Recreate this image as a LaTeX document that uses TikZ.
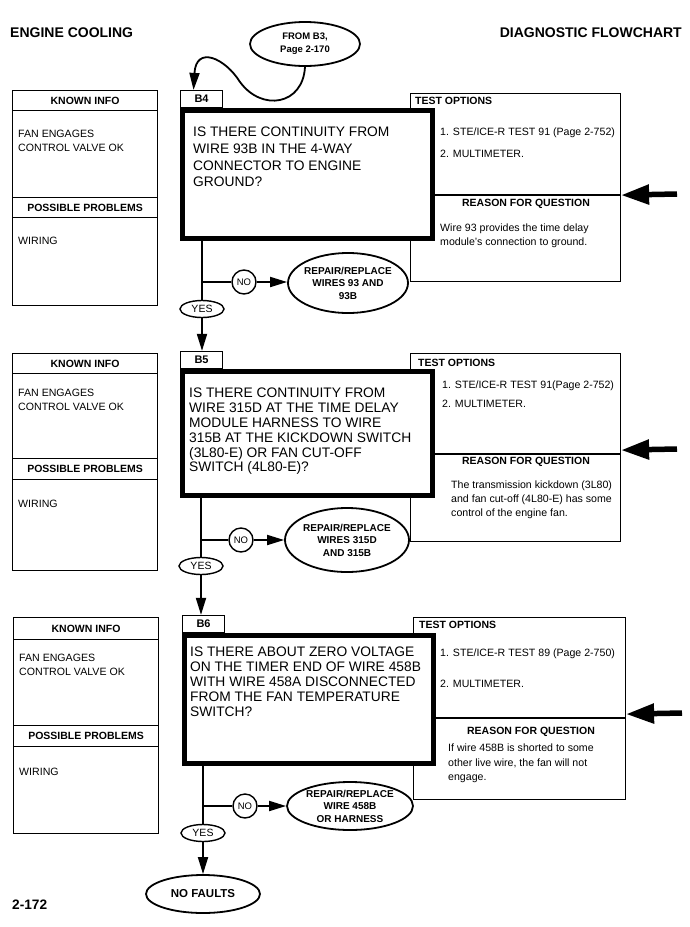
\documentclass[tikz,border=0pt]{standalone}
\usepackage{fontspec}
\setmainfont{Liberation Sans}
\usetikzlibrary{shapes.geometric,arrows.meta,positioning}

\begin{document}
\begin{tikzpicture}[
    x=1pt, y=-1pt,
    box/.style={draw, line width=1.1pt, anchor=north west, inner sep=0pt},
    hdr/.style={inner sep=0pt, font=\fontsize{10.5}{12}\selectfont\bfseries},
    txt/.style={anchor=north west, inner sep=0pt, align=left, font=\fontsize{10.6}{14}\selectfont},
    qbox/.style={draw, line width=5pt, fill=white, anchor=north west},
    qtext/.style={anchor=north west, inner sep=0pt, align=left, font=\fontsize{13.8}{14.8}\selectfont},
    tag/.style={draw, line width=1.1pt, anchor=south west, minimum width=42pt, minimum height=17pt, inner sep=0pt, font=\fontsize{11}{12}\selectfont\bfseries},
    oval/.style={draw, ellipse, line width=1.8pt, fill=white, inner xsep=-8pt, inner ysep=-5pt, align=center, font=\fontsize{10}{12.5}\selectfont\bfseries},
    yesbub/.style={draw, ellipse, line width=1.4pt, fill=white, inner sep=0pt, minimum width=44pt, minimum height=17pt, font=\fontsize{10.5}{12}\selectfont},
    nobub/.style={draw, circle, line width=1.4pt, inner sep=0pt, minimum size=24pt, font=\fontsize{9.5}{11}\selectfont},
    flow/.style={line width=1.8pt},
    arr/.style={line width=1.8pt, -{Triangle[length=17pt,width=10pt]}},
    bigarr/.style={line width=5.5pt, -{Triangle[length=28pt,width=19pt]}},
]
\useasboundingbox (0,0) rectangle (690,927);

% page heading
\node[anchor=west, inner sep=0pt, font=\fontsize{14}{16}\selectfont\bfseries] (title) at (10,33) {ENGINE COOLING};
\node[anchor=east, inner sep=0pt, font=\fontsize{14}{16}\selectfont\bfseries] (kind) at (682,33) {DIAGNOSTIC FLOWCHART};
\node[oval, minimum width=110pt, minimum height=44pt, font=\fontsize{9.5}{13}\selectfont\bfseries] (from) at (305,44) {FROM B3,\\Page 2-170};

% ---- B4 ----
\node[box, minimum width=145pt, minimum height=215pt] (kn1) at (12,90) {};
\node[box, hdr, minimum width=145pt, minimum height=20pt] (kn1h) at (12,90) {KNOWN INFO};
\node[box, hdr, minimum width=145pt, minimum height=20pt] (pp1h) at (12,197) {POSSIBLE PROBLEMS};
\node[txt] (kn1t) at (18,130) {FAN ENGAGES\\CONTROL VALVE OK};
\node[txt] (pp1t) at (18,237) {WIRING};

\node[box, minimum width=210pt, minimum height=101pt] (to1) at (410,93) {};
\node[box, minimum width=210pt, minimum height=86pt, below=0pt of to1] (rq1) {};
\node[hdr, anchor=west] (to1h) at (415,101) {TEST OPTIONS};
\node[txt] (to1t) at (440,128) {1. STE/ICE-R TEST 91 (Page 2-752)\\[8pt]2. MULTIMETER.};
\node[hdr] (rq1h) at (526,204) {REASON FOR QUESTION};
\node[txt] (rq1t) at (440,224) {Wire 93 provides the time delay\\module's connection to ground.};

\node[qbox, minimum width=250pt, minimum height=128pt] (q1box) at (180,108) {};
\node[tag] (b4) at (q1box.north west) {B4};
\node[qtext, font=\fontsize{13.8}{16.7}\selectfont] (q1) at (193,127) {IS THERE CONTINUITY FROM\\WIRE 93B IN THE 4-WAY\\CONNECTOR TO ENGINE\\GROUND?};

\node[nobub] (no1) at (244,282) {NO};
\node[oval, minimum width=120pt, minimum height=60pt] (fix1) at (348,283) {REPAIR/REPLACE\\WIRES 93 AND\\93B};
\node[yesbub] (yes1) at (202,309) {YES};
\coordinate (in1) at (677,194);

% ---- B5 ----
\node[box, minimum width=145pt, minimum height=217pt] (kn2) at (12,353) {};
\node[box, hdr, minimum width=145pt, minimum height=20pt] (kn2h) at (12,353) {KNOWN INFO};
\node[box, hdr, minimum width=145pt, minimum height=21pt] (pp2h) at (12,458) {POSSIBLE PROBLEMS};
\node[txt] (kn2t) at (18,389) {FAN ENGAGES\\CONTROL VALVE OK};
\node[txt] (pp2t) at (18,500) {WIRING};

\node[box, minimum width=210pt, minimum height=100pt] (to2) at (410,353) {};
\node[box, minimum width=210pt, minimum height=87pt, below=0pt of to2] (rq2) {};
\node[hdr, anchor=west] (to2h) at (418,363) {TEST OPTIONS};
\node[txt] (to2t) at (442,381) {1. STE/ICE-R TEST 91(Page 2-752)\\[4.4pt]2. MULTIMETER.};
\node[hdr] (rq2h) at (526,462) {REASON FOR QUESTION};
\node[txt, font=\fontsize{10.6}{13.6}\selectfont] (rq2t) at (451,481) {The transmission kickdown (3L80)\\and fan cut-off (4L80-E) has some\\control of the engine fan.};

\node[qbox, minimum width=250pt, minimum height=124pt] (q2box) at (180,369) {};
\node[tag] (b5) at (q2box.north west) {B5};
\node[qtext] (q2) at (189,388) {IS THERE CONTINUITY FROM\\WIRE 315D AT THE TIME DELAY\\MODULE HARNESS TO WIRE\\315B AT THE KICKDOWN SWITCH\\(3L80-E) OR FAN CUT-OFF\\SWITCH (4L80-E)?};

\node[nobub] (no2) at (241,540) {NO};
\node[oval, minimum width=124pt, minimum height=64pt] (fix2) at (347,540) {REPAIR/REPLACE\\WIRES 315D\\AND 315B};
\node[yesbub] (yes2) at (201,566) {YES};
\coordinate (in2) at (677,449);

% ---- B6 ----
\node[box, minimum width=145pt, minimum height=216pt] (kn3) at (13,617) {};
\node[box, hdr, minimum width=145pt, minimum height=22pt] (kn3h) at (13,617) {KNOWN INFO};
\node[box, hdr, minimum width=145pt, minimum height=21pt] (pp3h) at (13,725) {POSSIBLE PROBLEMS};
\node[txt] (kn3t) at (19,654) {FAN ENGAGES\\CONTROL VALVE OK};
\node[txt] (pp3t) at (19,768) {WIRING};

\node[box, minimum width=212pt, minimum height=100pt] (to3) at (413,617) {};
\node[box, minimum width=212pt, minimum height=81pt, below=0pt of to3] (rq3) {};
\node[hdr, anchor=west] (to3h) at (419,625) {TEST OPTIONS};
\node[txt] (to3t) at (440,649) {1. STE/ICE-R TEST 89 (Page 2-750)\\[16.4pt]2. MULTIMETER.};
\node[hdr] (rq3h) at (531,732) {REASON FOR QUESTION};
\node[txt, font=\fontsize{10.6}{14.5}\selectfont] (rq3t) at (448,744) {If wire 458B is shorted to some\\other live wire, the fan will not\\engage.};

\node[qbox, minimum width=249pt, minimum height=128pt] (q3box) at (182,633) {};
\node[tag] (b6) at (q3box.north west) {B6};
\node[qtext] (q3) at (190,647) {IS THERE ABOUT ZERO VOLTAGE\\ON THE TIMER END OF WIRE 458B\\WITH WIRE 458A DISCONNECTED\\FROM THE FAN TEMPERATURE\\SWITCH?};

\node[nobub] (no3) at (245,806) {NO};
\node[oval, minimum width=126pt, minimum height=48pt] (fix3) at (350,806) {REPAIR/REPLACE\\WIRE 458B\\OR HARNESS};
\node[yesbub] (yes3) at (203,833) {YES};
\node[oval, minimum width=114pt, minimum height=38pt, font=\fontsize{11.5}{13}\selectfont\bfseries] (nof) at (203,894) {NO FAULTS};
\coordinate (in3) at (682,713);

\node[anchor=west, inner sep=0pt, font=\fontsize{13.7}{15}\selectfont\bfseries] (page) at (12,905) {2-172};

% connectors
\draw[arr] (from.south) .. controls (303,105) and (262,112) .. (240,82)
    .. controls (225,58) and (196,45) .. ([xshift=-8pt]b4.north);
\draw[flow] (q1box.south -| yes1) -- (yes1);
\draw[flow] (yes1 |- no1) -- (no1);
\draw[arr] (no1) -- (fix1.west |- no1);
\draw[arr] (yes1) -- (yes1 |- b5.north);
\draw[bigarr] (in1) -- (to1.south east);

\draw[flow] (q2box.south -| yes2) -- (yes2);
\draw[flow] (yes2 |- no2) -- (no2);
\draw[arr] (no2) -- (fix2);
\draw[arr] (yes2) -- (yes2 |- b6.north);
\draw[bigarr] (in2) -- ([yshift=4pt]to2.south east);

\draw[flow] (q3box.south -| yes3) -- (yes3);
\draw[flow] (yes3 |- no3) -- (no3);
\draw[arr] (no3) -- (fix3);
\draw[arr] (yes3) -- (nof);
\draw[bigarr] (in3) -- ([yshift=4pt]to3.south east);
\end{tikzpicture}
\end{document}
